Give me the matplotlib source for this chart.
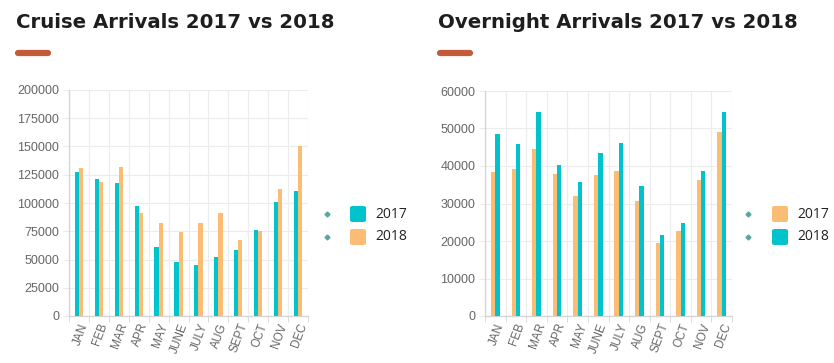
import matplotlib
matplotlib.use("Agg")
import matplotlib.pyplot as plt
from matplotlib.patches import FancyBboxPatch
from matplotlib.lines import Line2D
import numpy as np

months = ["JAN", "FEB", "MAR", "APR", "MAY", "JUNE", "JULY", "AUG", "SEPT", "OCT", "NOV", "DEC"]

cruise_2017 = [127000, 121000, 117500, 97500, 61500, 47500, 45000, 52500, 58000, 76500, 100500, 111000]
cruise_2018 = [131000, 118500, 132000, 91500, 82000, 74000, 82000, 91000, 67000, 75500, 112500, 150000]

overnight_2017 = [38400, 39200, 44500, 38000, 32100, 37600, 38600, 30800, 19500, 22600, 36200, 49100]
overnight_2018 = [48600, 46000, 54300, 40300, 35700, 43400, 46200, 34800, 21500, 24900, 38800, 54500]

teal = "#00c3cb"
orange = "#fbbd74"
grid_c = "#ececec"
axis_c = "#d6d6d6"
label_c = "#666666"

W, H = 834, 363
fig = plt.figure(figsize=(W / 100, H / 100), dpi=100)
fig.patch.set_facecolor("white")


def px_axes(x0, y0, x1, y1):
    # pixel box (top-left origin) -> figure axes
    return fig.add_axes([x0 / W, 1 - y1 / H, (x1 - x0) / W, (y1 - y0) / H])


def bar_chart(ax, first, second, c1, c2, ymax, step):
    x = np.arange(len(months))
    bw = 0.21
    ax.bar(x - bw / 2, first, bw, color=c1, zorder=3)
    ax.bar(x + bw / 2, second, bw, color=c2, zorder=3)
    ax.set_xlim(-0.5, len(months) - 0.5)
    ax.set_ylim(0, ymax)
    ax.set_yticks(np.arange(0, ymax + 1, step))
    ax.set_xticks(x)
    ax.set_xticklabels(months, rotation=70, ha="right", rotation_mode="anchor",
                       fontsize=8.5, color=label_c, family="Liberation Sans")
    ax.set_xticks(np.arange(-0.5, len(months)), minor=True)
    for lab in ax.get_yticklabels():
        lab.set_fontsize(9)
        lab.set_color(label_c)
        lab.set_family("Liberation Sans")
    ax.tick_params(axis="x", which="major", length=0, pad=4)
    ax.tick_params(axis="x", which="minor", length=4, color=axis_c)
    ax.tick_params(axis="y", length=4, color=grid_c, pad=3)
    ax.grid(True, axis="y", color=grid_c, linewidth=0.8, zorder=0)
    ax.grid(True, axis="x", which="minor", color=grid_c, linewidth=0.8, zorder=0)
    for s in ["top", "right"]:
        ax.spines[s].set_visible(False)
    for s in ["left", "bottom"]:
        ax.spines[s].set_color(axis_c)
        ax.spines[s].set_linewidth(1.0)


def title(x, y, text):
    fig.text(x / W, 1 - y / H, text, fontsize=14.2, fontweight="bold",
             family="DejaVu Sans", color="#1e1e1e", va="baseline")
    fig.add_artist(Line2D([(x + 2) / W, (x + 32) / W], [1 - 53 / H, 1 - 53 / H],
                          color="#c25b3a", linewidth=4.5, solid_capstyle="round"))


def legend(xd, xs, y_top, entries):
    for i, (lab, col) in enumerate(entries):
        yc = y_top + i * 23
        fig.add_artist(Line2D([xd / W], [1 - yc / H], marker="D", markersize=2.5,
                              color="#5aa6a0", linestyle="none"))
        fig.add_artist(FancyBboxPatch((xs / W, 1 - (yc + 8) / H), 16 / W, 16 / H,
                                      boxstyle="round,pad=0,rounding_size=0.004",
                                      facecolor=col, edgecolor="none",
                                      transform=fig.transFigure))
        fig.text((xs + 25) / W, 1 - yc / H, lab, fontsize=10, family="Open Sans",
                 color="#222222", va="center")


ax1 = px_axes(69, 90, 308, 316)
bar_chart(ax1, cruise_2017, cruise_2018, teal, orange, 200000, 25000)
ax2 = px_axes(485, 91, 732, 316)
bar_chart(ax2, overnight_2017, overnight_2018, orange, teal, 60000, 10000)

title(16, 28, "Cruise Arrivals 2017 vs 2018")
title(438, 28, "Overnight Arrivals 2017 vs 2018")

legend(327, 350, 214, [("2017", teal), ("2018", orange)])
legend(748, 772, 214, [("2017", orange), ("2018", teal)])

fig.savefig("out.png", dpi=100)
